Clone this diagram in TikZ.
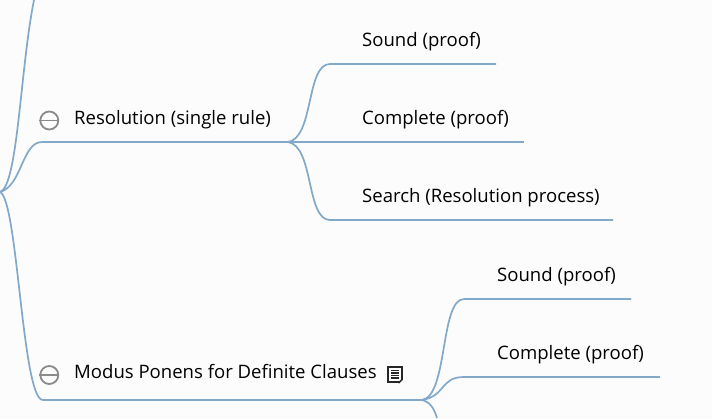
\documentclass[tikz,border=0pt]{standalone}
\usepackage{fontspec}
\setmainfont{Open Sans}
\definecolor{branchcol}{HTML}{82A9C9}
\definecolor{iconcol}{HTML}{8A8A8A}
\begin{document}
\begin{tikzpicture}[x=1pt,y=-1pt,
  label/.style={anchor=base west,inner sep=0pt,font=\fontsize{18.55}{22}\selectfont,text=black},
  branch/.style={draw=branchcol,line width=1.7pt},
  collapse/.style={draw=iconcol,circle,line width=1.8pt,minimum size=18pt,inner sep=0pt}
]
\useasboundingbox[fill=white!99!black] (0,0) rectangle (712,418);

% left stem
\coordinate (root) at (0,192);
\coordinate (top) at (34,0);
\coordinate (res) at (42,142);
\coordinate (resend) at (288,142);
\coordinate (mod) at (43,400);
\coordinate (modend) at (422,400);

\draw[branch] (root) .. controls (18,186) and (20,70) .. (top);
\draw[branch] (root) .. controls (22,186) and (22,142) .. (res) -- (resend);
\draw[branch] (root) .. controls (18,200) and (22,400) .. (mod) -- (modend);

\node [collapse] (minus1) at (49.3,120.5) {};
\draw[iconcol,line width=1.8pt] (minus1.west) -- (minus1.east);
\node [collapse] (minus2) at (49.3,375) {};
\draw[iconcol,line width=1.8pt] (minus2.west) -- (minus2.east);

\node [label] (resnode) at (74,124) {Resolution (single rule)};
\node [label] (modnode) at (74,378) {Modus Ponens for Definite Clauses};

% note icon
\node [draw=black!85,fill=white,line width=1.6pt,minimum width=13.5pt,minimum height=15.5pt,inner sep=0pt] (note) at (395,374.5) {};
\foreach \i in {-4,-1.5,1,3.5}
  \draw[black!85,line width=1.3pt] ([xshift=-4pt,yshift=-\i pt]note.center) -- ([xshift=4pt,yshift=-\i pt]note.center);
\fill[white!99!black] (note.south east) ++(-4,1) -- ++(5,0) -- ++(0,-5) -- cycle;
\draw[black!85,line width=1.3pt] (note.south east) ++(-4,0) -- ++(4,-4);

% resolution children
\coordinate (s1) at (330,64);
\coordinate (s1end) at (496,64);
\coordinate (c1) at (330,142);
\coordinate (c1end) at (524,142);
\coordinate (p1) at (330,220);
\coordinate (p1end) at (613,220);
\draw[branch] (resend) .. controls (314,138) and (306,64) .. (s1) -- (s1end);
\draw[branch] (resend) -- (c1) -- (c1end);
\draw[branch] (resend) .. controls (314,146) and (306,220) .. (p1) -- (p1end);
\node [label] (sound1) at (362,46) {Sound (proof)};
\node [label] (complete1) at (362,124) {Complete (proof)};
\node [label] (search1) at (362,202) {Search (Resolution process)};

% modus ponens children
\coordinate (s2) at (464,299);
\coordinate (s2end) at (631,299);
\coordinate (c2) at (464,377);
\coordinate (c2end) at (660,377);
\coordinate (bot) at (437,418);
\draw[branch] (modend) .. controls (448,396) and (440,299) .. (s2) -- (s2end);
\draw[branch] (modend) .. controls (446,396) and (440,377) .. (c2) -- (c2end);
\draw[branch] (modend) .. controls (430,402) and (434,408) .. (bot);
\node [label] (sound2) at (497,281) {Sound (proof)};
\node [label] (complete2) at (497,359) {Complete (proof)};
\end{tikzpicture}
\end{document}
